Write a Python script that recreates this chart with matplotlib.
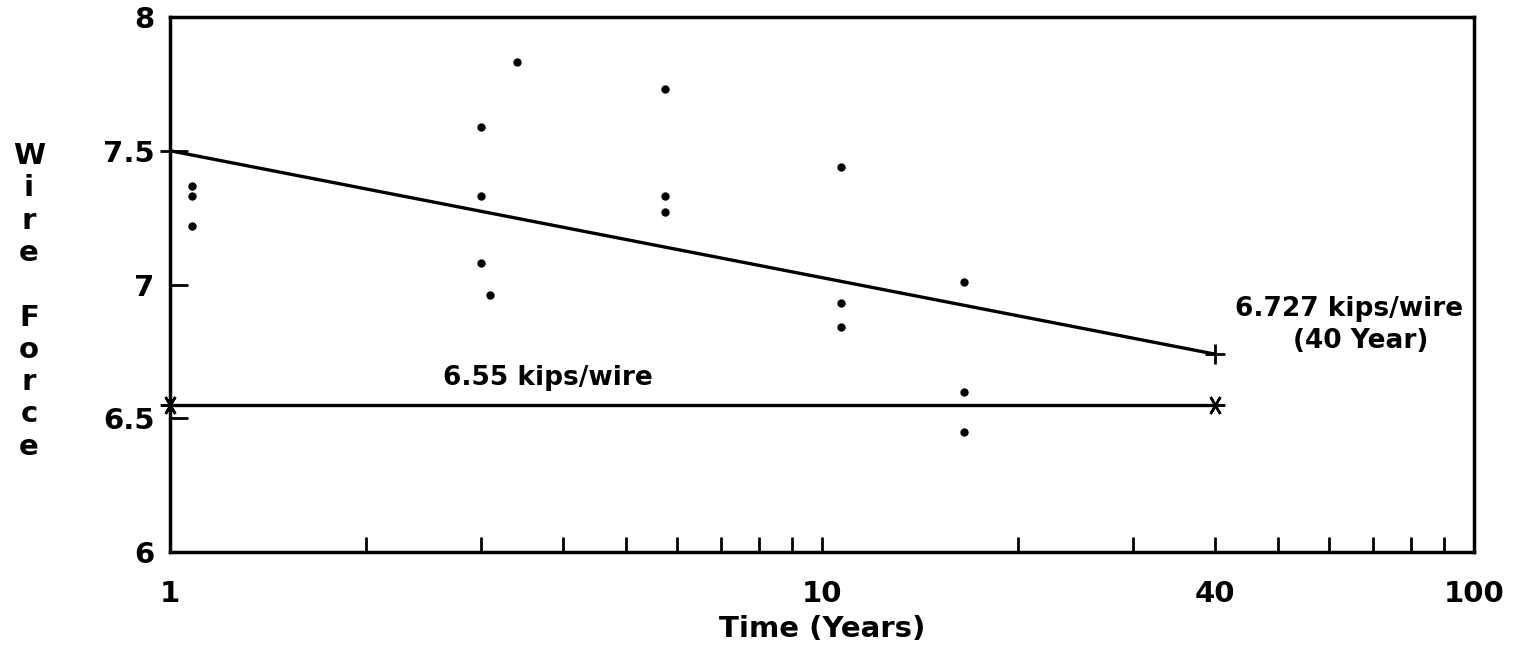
import numpy as np
import matplotlib
matplotlib.use("Agg")
import matplotlib.pyplot as plt

plt.rcParams['font.family'] = 'DejaVu Sans'
plt.rcParams['font.weight'] = 'bold'

# measured wire forces (kips/wire)
t_obs = [1.08, 1.08, 1.08, 3.0, 3.0, 3.0, 3.1, 3.4, 5.75, 5.75, 5.75,
         10.7, 10.7, 10.7, 16.5, 16.5, 16.5]
f_obs = [7.37, 7.33, 7.22, 7.59, 7.33, 7.08, 6.96, 7.83, 7.73, 7.33, 7.27,
         7.44, 6.93, 6.84, 7.01, 6.60, 6.45]

# log fit and design force
t_fit = [1, 40]
f_fit = [7.5, 6.74]
t_des = [1, 40]
f_des = [6.55, 6.55]

xticks = [1, 2, 3, 4, 5, 6, 7, 8, 9, 10, 20, 30, 40, 50, 60, 70, 80, 90, 100]
xlabels = ['1', '', '', '', '', '', '', '', '', '10', '', '', '40', '', '', '', '', '', '100']
yticks = [6, 6.5, 7, 7.5, 8]
ylabels = ['6', '6.5', '7', '7.5', '8']

W, H = 1518, 655
fig = plt.figure(figsize=(W/100, H/100), dpi=100)
ax = fig.add_axes([170/W, 1-552/H, (1474-170)/W, (552-17)/H])

ax.plot(t_obs, f_obs, 'o', color='black', markersize=5, ls='none')
ax.plot(t_fit, f_fit, '-', color='black', lw=2.4)
ax.plot(t_fit, f_fit, '+', color='black', markersize=14, mew=2, clip_on=False)
ax.plot(t_des, f_des, '-', color='black', lw=2.4)
ax.plot(t_des, f_des, marker=(6, 2, 90), color='black', markersize=14, mew=1.8,
        ls='none', clip_on=False)

ax.text(3.8, 6.65, '6.55 kips/wire', fontsize=19, ha='center', va='center')
ax.text(64.3, 6.91, '6.727 kips/wire', fontsize=19, ha='center', va='center')
ax.text(67, 6.79, '(40 Year)', fontsize=19, ha='center', va='center')

ax.set_xscale('log')
ax.set_xlim(1, 100)
ax.set_ylim(6, 8)
ax.set_xticks(xticks)
ax.set_xticklabels(xlabels)
ax.xaxis.set_minor_locator(matplotlib.ticker.NullLocator())
ax.set_yticks(yticks)
ax.set_yticklabels(ylabels)

ax.tick_params(axis='x', direction='in', length=11, width=2, labelsize=21, pad=20)
ax.tick_params(axis='y', direction='in', length=13, width=2, labelsize=21, pad=11)
for s in ax.spines.values():
    s.set_linewidth(2.5)

ax.set_xlabel('Time (Years)', fontsize=21, fontweight='bold', labelpad=5)

# vertical stacked y label
letters = "Wire Force"
base = 164
for k, ch in enumerate(letters):
    if ch == ' ':
        continue
    fig.text(29/W, 1-(base + k*32.3)/H, ch, fontsize=21, ha='center', va='baseline')

fig.savefig('out.png', dpi=100)
